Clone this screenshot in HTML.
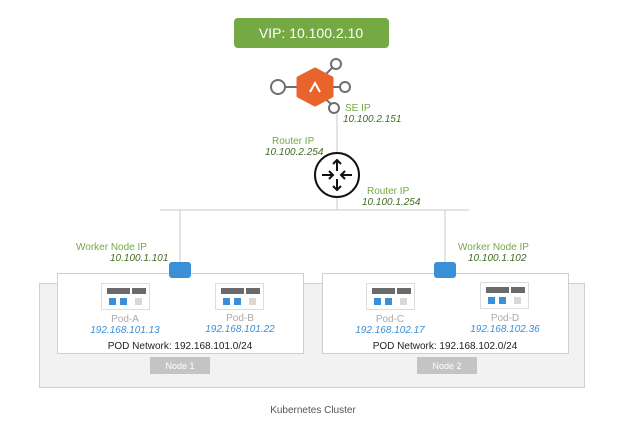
<!DOCTYPE html>
<html><head><meta charset="utf-8"><style>
html,body{margin:0;padding:0;background:#fff;width:624px;height:431px;overflow:hidden}
svg{display:block}
text{font-family:"Liberation Sans",sans-serif}
</style></head><body>
<svg width="624" height="431" viewBox="0 0 624 431" xmlns="http://www.w3.org/2000/svg">
<rect x="234" y="18" width="155" height="30" rx="4" fill="#74a944"/>
<text x="311" y="38" font-size="14" fill="#fff" text-anchor="middle">VIP: 10.100.2.10</text>
<!-- SE links -->
<g stroke="#6f6f6f" stroke-width="2" fill="#fff">
<line x1="285" y1="87" x2="300" y2="87"/>
<line x1="322" y1="78" x2="332" y2="68"/>
<line x1="330" y1="87" x2="340" y2="87"/>
<line x1="322" y1="96" x2="331" y2="104"/>
<circle cx="278" cy="87" r="7"/>
<circle cx="336" cy="64" r="5"/>
<circle cx="345" cy="87" r="5"/>
<circle cx="334" cy="108" r="5"/>
</g>
<polygon points="315,69 332,78 332,96 315,105 298,96 298,78" fill="#e8642c" stroke="#e8642c" stroke-width="3" stroke-linejoin="round"/>
<polyline points="310,92 315,83 320,92" fill="none" stroke="#fff" stroke-width="2"/>
<!-- lines -->
<g stroke="#c8c8c8" stroke-width="1" fill="none">
<line x1="337" y1="113" x2="337" y2="152"/>
<line x1="337" y1="198" x2="337" y2="210"/>
<line x1="160" y1="210" x2="469" y2="210"/>
<line x1="180" y1="210" x2="180" y2="263"/>
<line x1="445" y1="210" x2="445" y2="263"/>
</g>
<text x="345" y="111" font-size="10" fill="#74a944">SE IP</text>
<text x="343" y="122" font-size="10" fill="#3f6e22" font-style="italic">10.100.2.151</text>
<text x="272" y="144" font-size="10" fill="#74a944">Router IP</text>
<text x="265" y="155" font-size="10" fill="#3f6e22" font-style="italic">10.100.2.254</text>
<text x="367" y="194" font-size="10" fill="#74a944">Router IP</text>
<text x="362" y="205" font-size="10" fill="#3f6e22" font-style="italic">10.100.1.254</text>
<!-- router -->
<circle cx="337" cy="175" r="22" fill="#fff" stroke="#111" stroke-width="2"/>
<g stroke="#111" stroke-width="2" fill="none">
<line x1="337" y1="160" x2="337" y2="171"/><polyline points="333,164 337,160 341,164"/>
<line x1="337" y1="179" x2="337" y2="190"/><polyline points="333,186 337,190 341,186"/>
<line x1="322" y1="175" x2="333" y2="175"/><polyline points="329,171 333,175 329,179"/>
<line x1="341" y1="175" x2="352" y2="175"/><polyline points="345,171 341,175 345,179"/>
</g>
<!-- cluster -->
<rect x="39.5" y="283.5" width="545" height="104" fill="#f2f2f2" stroke="#d0d0d0"/>
<text x="313" y="413" font-size="10" fill="#555" text-anchor="middle">Kubernetes Cluster</text>
<!-- nodes -->
<rect x="57.5" y="273.5" width="246" height="80" fill="#fff" stroke="#cfcfcf"/>
<rect x="322.5" y="273.5" width="246" height="80" fill="#fff" stroke="#cfcfcf"/>
<rect x="150" y="357" width="60" height="17" fill="#c4c4c4"/>
<text x="180" y="369" font-size="9" fill="#fff" text-anchor="middle">Node 1</text>
<rect x="417" y="357" width="60" height="17" fill="#c4c4c4"/>
<text x="447" y="369" font-size="9" fill="#fff" text-anchor="middle">Node 2</text>
<text x="180" y="349" font-size="10" fill="#222" text-anchor="middle">POD Network: 192.168.101.0/24</text>
<text x="445" y="349" font-size="10" fill="#222" text-anchor="middle">POD Network: 192.168.102.0/24</text>
<text x="76" y="250" font-size="10" fill="#74a944">Worker Node IP</text>
<text x="110" y="261" font-size="10" fill="#3f6e22" font-style="italic">10.100.1.101</text>
<text x="458" y="250" font-size="10" fill="#74a944">Worker Node IP</text>
<text x="468" y="261" font-size="10" fill="#3f6e22" font-style="italic">10.100.1.102</text>
<rect x="169" y="262" width="22" height="16" rx="3" fill="#3a8fd6"/>
<rect x="434" y="262" width="22" height="16" rx="3" fill="#3a8fd6"/>
<!-- pods -->
<g id="pod">
</g>
<g font-size="10" text-anchor="middle">
<g transform="translate(101,283)">
<rect x="0.5" y="0.5" width="48" height="26" fill="#fff" stroke="#ddd"/>
<rect x="6" y="5" width="23" height="6" fill="#6a6a6a"/><rect x="31" y="5" width="14" height="6" fill="#6a6a6a"/>
<rect x="8" y="15" width="7" height="7" fill="#3a8fd6"/><rect x="19" y="15" width="7" height="7" fill="#3a8fd6"/><rect x="34" y="15" width="7" height="7" fill="#d8d8d8"/>
</g>
<g transform="translate(215,283)">
<rect x="0.5" y="0.5" width="48" height="26" fill="#fff" stroke="#ddd"/>
<rect x="6" y="5" width="23" height="6" fill="#6a6a6a"/><rect x="31" y="5" width="14" height="6" fill="#6a6a6a"/>
<rect x="8" y="15" width="7" height="7" fill="#3a8fd6"/><rect x="19" y="15" width="7" height="7" fill="#3a8fd6"/><rect x="34" y="15" width="7" height="7" fill="#d8d8d8"/>
</g>
<g transform="translate(366,283)">
<rect x="0.5" y="0.5" width="48" height="26" fill="#fff" stroke="#ddd"/>
<rect x="6" y="5" width="23" height="6" fill="#6a6a6a"/><rect x="31" y="5" width="14" height="6" fill="#6a6a6a"/>
<rect x="8" y="15" width="7" height="7" fill="#3a8fd6"/><rect x="19" y="15" width="7" height="7" fill="#3a8fd6"/><rect x="34" y="15" width="7" height="7" fill="#d8d8d8"/>
</g>
<g transform="translate(480,282)">
<rect x="0.5" y="0.5" width="48" height="26" fill="#fff" stroke="#ddd"/>
<rect x="6" y="5" width="23" height="6" fill="#6a6a6a"/><rect x="31" y="5" width="14" height="6" fill="#6a6a6a"/>
<rect x="8" y="15" width="7" height="7" fill="#3a8fd6"/><rect x="19" y="15" width="7" height="7" fill="#3a8fd6"/><rect x="34" y="15" width="7" height="7" fill="#d8d8d8"/>
</g>
<text x="125" y="322" fill="#aaa">Pod-A</text>
<text x="125" y="333" fill="#3a8fd6" font-style="italic">192.168.101.13</text>
<text x="240" y="321" fill="#aaa">Pod-B</text>
<text x="240" y="332" fill="#3a8fd6" font-style="italic">192.168.101.22</text>
<text x="390" y="322" fill="#aaa">Pod-C</text>
<text x="390" y="333" fill="#3a8fd6" font-style="italic">192.168.102.17</text>
<text x="505" y="321" fill="#aaa">Pod-D</text>
<text x="505" y="332" fill="#3a8fd6" font-style="italic">192.168.102.36</text>
</g>
</svg>
</body></html>
